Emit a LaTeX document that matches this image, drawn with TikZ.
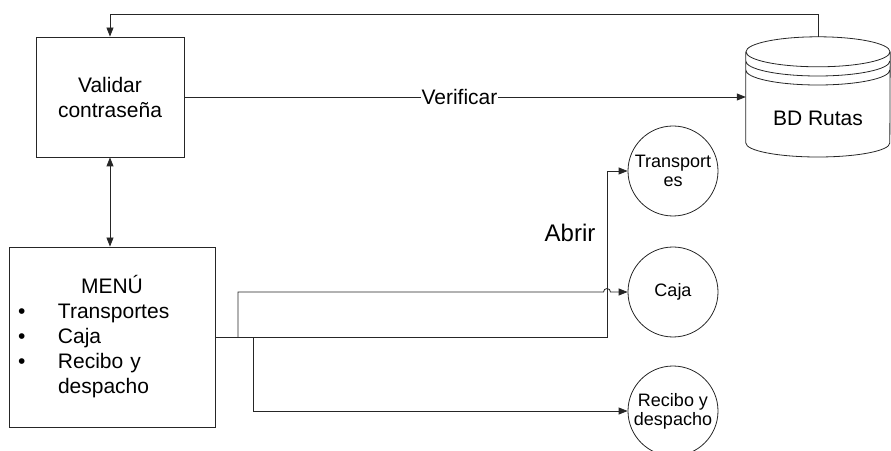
\documentclass[tikz,border=0pt]{standalone}
\usepackage{fontspec}
\setmainfont{Liberation Sans}
\usepackage{tikz}
\usetikzlibrary{arrows.meta, positioning, calc}
\tikzstyle{block} = [rectangle, draw=black!85, line width=0.8pt, align=center,
    font=\fontsize{21}{25}\selectfont]
\tikzstyle{opt} = [circle, draw=black!85, line width=0.8pt, minimum size=90pt, inner sep=0pt,
    align=center, font=\fontsize{18}{19}\selectfont]
\tikzstyle{arrow} = [line width=0.8pt, draw=black!85, ->, >={Triangle[length=9pt,width=7pt]}]

\begin{document}
\begin{tikzpicture}[x=1pt, y=1pt]
  \useasboundingbox (0,0) rectangle (891,450);

  \node (valid) [block, minimum width=148pt, minimum height=120pt] at (110,353) {Validar\\contraseña};
  \node (menu)  [block, minimum width=206pt, minimum height=180pt, text width=188pt,
                 inner xsep=9pt, align=left] at (112,113)
        {\makebox[188pt]{MENÚ}\\
         \makebox[40pt][l]{\textbullet}Transportes\\
         \makebox[40pt][l]{\textbullet}Caja\\
         \makebox[40pt][l]{\textbullet}Recibo y\\
         \hspace*{40pt}despacho};

  % base de datos (cilindro)
  \node (db) [minimum width=144pt, minimum height=120pt, inner sep=0pt] at (818,353) {};
  \draw[black!85, line width=0.8pt]
    (db.north) ++(0,-15) ellipse [x radius=72, y radius=15]
    (db.west |- 0,398) -- (db.west |- 0,307)
      arc[start angle=180, end angle=360, x radius=72, y radius=14]
      -- (db.east |- 0,398)
    (db.west |- 0,389) arc[start angle=180, end angle=360, x radius=72, y radius=15]
    (db.west |- 0,380) arc[start angle=180, end angle=360, x radius=72, y radius=15];
  \node (dbtxt) [font=\fontsize{21}{25}\selectfont] at (818,332) {BD Rutas};

  \node (trans)  [opt] at (673,279) {Transport\\es};
  \node (caja)   [opt] at (673,158) {Caja};
  \node (recibo) [opt] at (673,39)  {Recibo y\\despacho};

  \node (abrir) [font=\fontsize{24}{28}\selectfont] at (570,217) {Abrir};

  \coordinate (top)    at (0,436);
  \coordinate (busx)   at (607,0);
  \coordinate (split1) at (238,0);
  \coordinate (split2) at (253,0);

  \draw[arrow] (db.north) |- (top -| valid.north) -- (valid.north);
  \draw[arrow] (valid.east) -- node[fill=white, inner sep=1pt, pos=0.49,
      font=\fontsize{21}{25}\selectfont] {Verificar} (db.west);
  \draw[arrow, <->] (valid.south) -- (valid.south |- menu.north);

  \draw[arrow] (menu.east) -| (busx |- trans.west) -- (trans.west);
  \draw[arrow] (split1 |- menu.east) -- (split1 |- caja.west)
    -- ($(busx |- caja.west)+(-3.5,0)$) arc[start angle=180, end angle=0, radius=3.5]
    -- (caja.west);
  \draw[arrow] (split2 |- menu.east) |- (recibo.west);
\end{tikzpicture}
\end{document}
